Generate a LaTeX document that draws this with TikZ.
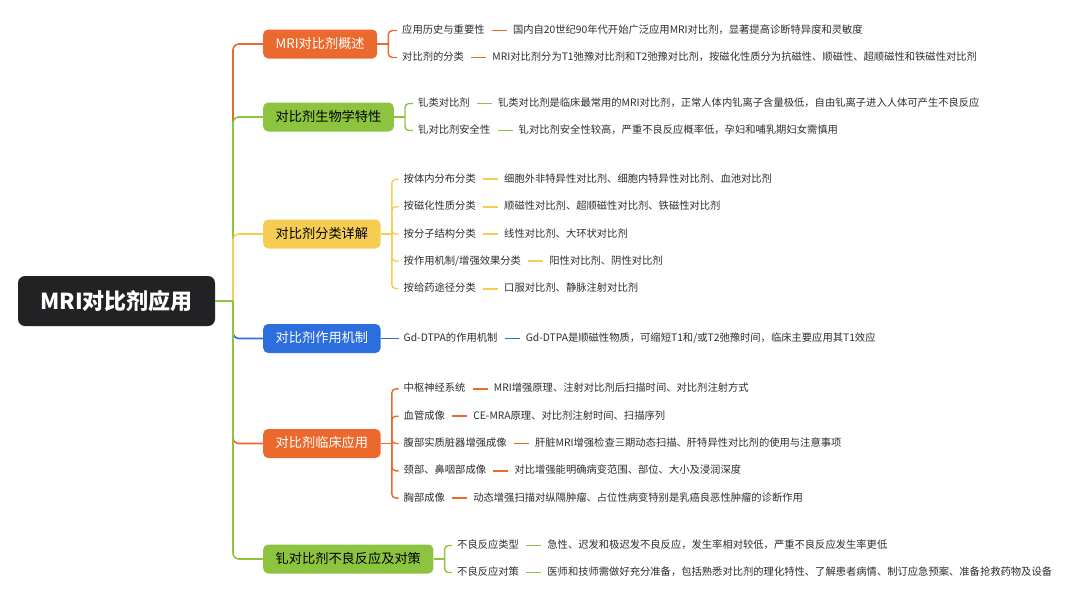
\documentclass[tikz,border=0pt]{standalone}
\usepackage{fontspec}
\newfontfamily\cjk{Noto Sans CJK SC}
\usetikzlibrary{positioning}
\definecolor{rootc}{RGB}{34,34,37}
\definecolor{orng}{RGB}{236,105,46}
\definecolor{grn}{RGB}{141,196,63}
\definecolor{ylw}{RGB}{245,205,82}
\definecolor{blu}{RGB}{44,110,222}
\definecolor{txt}{RGB}{45,45,45}
\tikzset{every node/.style={font=\cjk},
rootbox/.style={fill=rootc,text=white,rounded corners=7pt,minimum width=197pt,minimum height=50pt,font=\cjk\bfseries\fontsize{22}{26}\selectfont},
topic/.style={anchor=west,rounded corners=5pt,minimum height=29pt,inner xsep=12.5pt,inner ysep=0pt,text height=10.5pt,text depth=2.5pt,font=\cjk\fontsize{13.2}{16}\selectfont},
subitem/.style={anchor=west,inner xsep=3pt,inner ysep=1pt,text height=8pt,text depth=2pt,text=txt,font=\cjk\fontsize{10.3}{12}\selectfont},
link/.style={line width=1.6pt,rounded corners=6pt},
twig/.style={line width=1.4pt,rounded corners=4pt,shorten >=2pt},
tie/.style={line width=1.9pt,shorten <=4pt,shorten >=3pt}}
\begin{document}
\begin{tikzpicture}[x=1pt,y=-1pt]
\useasboundingbox (0,0) rectangle (1080,603);
\node[rootbox] (root) at (116.5,301) {MRI对比剂应用};
\coordinate (hub) at (233,301);
\node[topic,fill=orng,text=white] (b1) at (263,44) {MRI对比剂概述};
\node[topic,fill=grn,text=black] (b2) at (263,117) {对比剂生物学特性};
\node[topic,fill=ylw,text=black] (b3) at (263,234) {对比剂分类详解};
\node[topic,fill=blu,text=white] (b4) at (263,338.5) {对比剂作用机制};
\node[topic,fill=orng,text=white] (b5) at (263,443.5) {对比剂临床应用};
\node[topic,fill=grn,text=black] (b6) at (263,559) {钆对比剂不良反应及对策};

\node[subitem] (c11) at (399,30.5) {应用历史与重要性};
\node[subitem,right=22pt of c11] (d11) {国内自20世纪90年代开始广泛应用MRI对比剂，显著提高诊断特异度和灵敏度};
\node[subitem] (c12) at (399,57.5) {对比剂的分类};
\node[subitem,right=22pt of c12] (d12) {MRI对比剂分为T1弛豫对比剂和T2弛豫对比剂，按磁化性质分为抗磁性、顺磁性、超顺磁性和铁磁性对比剂};

\node[subitem] (c21) at (415,103.5) {钆类对比剂};
\node[subitem,right=22pt of c21] (d21) {钆类对比剂是临床最常用的MRI对比剂，正常人体内钆离子含量极低，自由钆离子进入人体可产生不良反应};
\node[subitem] (c22) at (415,130.5) {钆对比剂安全性};
\node[subitem,right=22pt of c22] (d22) {钆对比剂安全性较高，严重不良反应概率低，孕妇和哺乳期妇女需慎用};

\node[subitem] (c31) at (400.5,179.4) {按体内分布分类};
\node[subitem,right=22pt of c31] (d31) {细胞外非特异性对比剂、细胞内特异性对比剂、血池对比剂};
\node[subitem] (c32) at (400.5,206.7) {按磁化性质分类};
\node[subitem,right=22pt of c32] (d32) {顺磁性对比剂、超顺磁性对比剂、铁磁性对比剂};
\node[subitem] (c33) at (400.5,234) {按分子结构分类};
\node[subitem,right=22pt of c33] (d33) {线性对比剂、大环状对比剂};
\node[subitem] (c34) at (400.5,261.3) {按作用机制/增强效果分类};
\node[subitem,right=22pt of c34] (d34) {阳性对比剂、阴性对比剂};
\node[subitem] (c35) at (400.5,288.6) {按给药途径分类};
\node[subitem,right=22pt of c35] (d35) {口服对比剂、静脉注射对比剂};

\node[subitem] (c41) at (400.5,338.5) {Gd-DTPA的作用机制};
\node[subitem,right=22pt of c41] (d41) {Gd-DTPA是顺磁性物质，可缩短T1和/或T2弛豫时间，临床主要应用其T1效应};

\node[subitem] (c51) at (400.5,388.9) {中枢神经系统};
\node[subitem,right=22pt of c51] (d51) {MRI增强原理、注射对比剂后扫描时间、对比剂注射方式};
\node[subitem] (c52) at (400.5,416.2) {血管成像};
\node[subitem,right=22pt of c52] (d52) {CE-MRA原理、对比剂注射时间、扫描序列};
\node[subitem] (c53) at (400.5,443.5) {腹部实质脏器增强成像};
\node[subitem,right=22pt of c53] (d53) {肝脏MRI增强检查三期动态扫描、肝特异性对比剂的使用与注意事项};
\node[subitem] (c54) at (400.5,470.8) {颈部、鼻咽部成像};
\node[subitem,right=22pt of c54] (d54) {对比增强能明确病变范围、部位、大小及浸润深度};
\node[subitem] (c55) at (400.5,498.1) {胸部成像};
\node[subitem,right=22pt of c55] (d55) {动态增强扫描对纵隔肿瘤、占位性病变特别是乳癌良恶性肿瘤的诊断作用};

\node[subitem] (c61) at (454,545.5) {不良反应类型};
\node[subitem,right=22pt of c61] (d61) {急性、迟发和极迟发不良反应，发生率相对较低，严重不良反应发生率更低};
\node[subitem] (c62) at (454,572.5) {不良反应对策};
\node[subitem,right=22pt of c62] (d62) {医师和技师需做好充分准备，包括熟悉对比剂的理化特性、了解患者病情、制订应急预案、准备抢救药物及设备};

\foreach \b/\col in {b1/orng,b2/grn,b3/ylw,b4/blu,b5/orng,b6/grn} \draw[link,color=\col] (hub) |- (\b.west);
\draw[link,color=grn] (root.east) -- (hub);

\draw[link,color=orng] (b1.east) -- ++(11,0) coordinate (k1);
\draw[link,color=grn] (b2.east) -- ++(11,0) coordinate (k2);
\draw[link,color=ylw] (b3.east) -- ++(11,0) coordinate (k3);
\draw[link,color=orng] (b5.east) -- ++(11,0) coordinate (k5);
\draw[link,color=grn] (b6.east) -- ++(11,0) coordinate (k6);
\draw[link,color=blu,shorten >=2pt] (b4.east) -- (c41.west);
\foreach \n in {1,2} \draw[twig,color=orng] (k1) |- (c1\n.west);
\foreach \n in {1,2} \draw[twig,color=grn] (k2) |- (c2\n.west);
\foreach \n in {1,...,5} \draw[twig,color=ylw] (k3) |- (c3\n.west);
\foreach \n in {1,...,5} \draw[twig,color=orng] (k5) |- (c5\n.west);
\foreach \n in {1,2} \draw[twig,color=grn] (k6) |- (c6\n.west);

\foreach \n in {11,12,51,52,53,54,55} \draw[tie,color=orng] (c\n.east) -- (d\n.west);
\foreach \n in {21,22,61,62} \draw[tie,color=grn] (c\n.east) -- (d\n.west);
\foreach \n in {31,...,35} \draw[tie,color=ylw] (c\n.east) -- (d\n.west);
\draw[tie,color=blu] (c41.east) -- (d41.west);
\end{tikzpicture}
\end{document}
